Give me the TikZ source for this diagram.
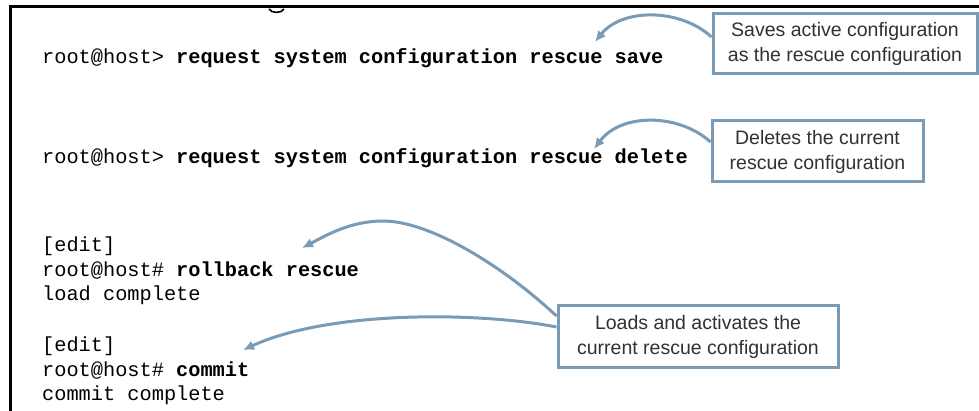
\documentclass[tikz,border=0pt]{standalone}
\usepackage{fontspec}
\setmonofont{Liberation Mono}
\newfontfamily\notefont{Liberation Sans}
\usetikzlibrary{arrows.meta}
\definecolor{calloutblue}{RGB}{122,155,182}
\definecolor{notegray}{RGB}{50,50,50}
\begin{document}
\begin{tikzpicture}[x=1pt,y=-1pt,
  cli/.style={anchor=base west, inner sep=0pt, font=\ttfamily\fontsize{20.3}{24}\selectfont},
  note/.style={draw=calloutblue, line width=3pt, fill=white, align=center, text=notegray,
    font=\notefont\fontsize{19.5}{25}\selectfont, inner sep=0pt},
  pointer/.style={draw=calloutblue, line width=3pt, -{Latex[length=11pt,width=10pt]}}]
  \useasboundingbox[fill=white] (0,0) rectangle (979,411);
  \clip (0,0) rectangle (979,411);

  % window frame and the tail of the clipped heading glyph
  \draw[line width=3pt] (10.5,411) -- (10.5,7) -- (979,7);
  \draw[line width=1.6pt] (269,9) .. controls (271,13.5) and (282,13.5) .. (284,9);

  % CLI session
  \node[cli] (c1) at (42,64) {root@host> \textbf{request system configuration rescue save}};
  \node[cli] (c2) at (42,164) {root@host> \textbf{request system configuration rescue delete}};
  \node[cli] (e1) at (42,252) {[edit]};
  \node[cli] (c3) at (42,277) {root@host\# \textbf{rollback rescue}};
  \node[cli] (o1) at (42,301) {load complete};
  \node[cli] (e2) at (42,351) {[edit]};
  \node[cli] (c4) at (42,376) {root@host\# \textbf{commit}};
  \node[cli] (o2) at (42,400) {commit complete};

  % callouts
  \node[note, minimum width=264pt, minimum height=60pt] (b1) at (845,43.5)
    {Saves active configuration\\as the rescue configuration};
  \node[note, minimum width=211pt, minimum height=61pt] (b2) at (817.5,151.5)
    {Deletes the current\\rescue configuration};
  \node[note, minimum width=280pt, minimum height=61pt] (b3) at (698,336.5)
    {Loads and activates the\\current rescue configuration};

  % arrow targets
  \coordinate (t1) at (595,42);
  \coordinate (t2) at (594,149);
  \coordinate (t3) at (302,248);
  \coordinate (t4) at (243,350);

  \draw[pointer] ([yshift=6.5pt]b1.west) .. controls (680,8) and (622,8) .. (t1);
  \draw[pointer] ([yshift=9.5pt]b2.west) .. controls (680,114) and (622,112) .. (t2);
  \draw[pointer] ([yshift=20.5pt]b3.west) .. controls (503,266) and (430,221) .. (383,221)
    .. controls (350,221) and (325,236) .. (t3);
  \draw[pointer] ([yshift=9.5pt]b3.west) .. controls (480,312) and (330,310) .. (t4);
\end{tikzpicture}
\end{document}
